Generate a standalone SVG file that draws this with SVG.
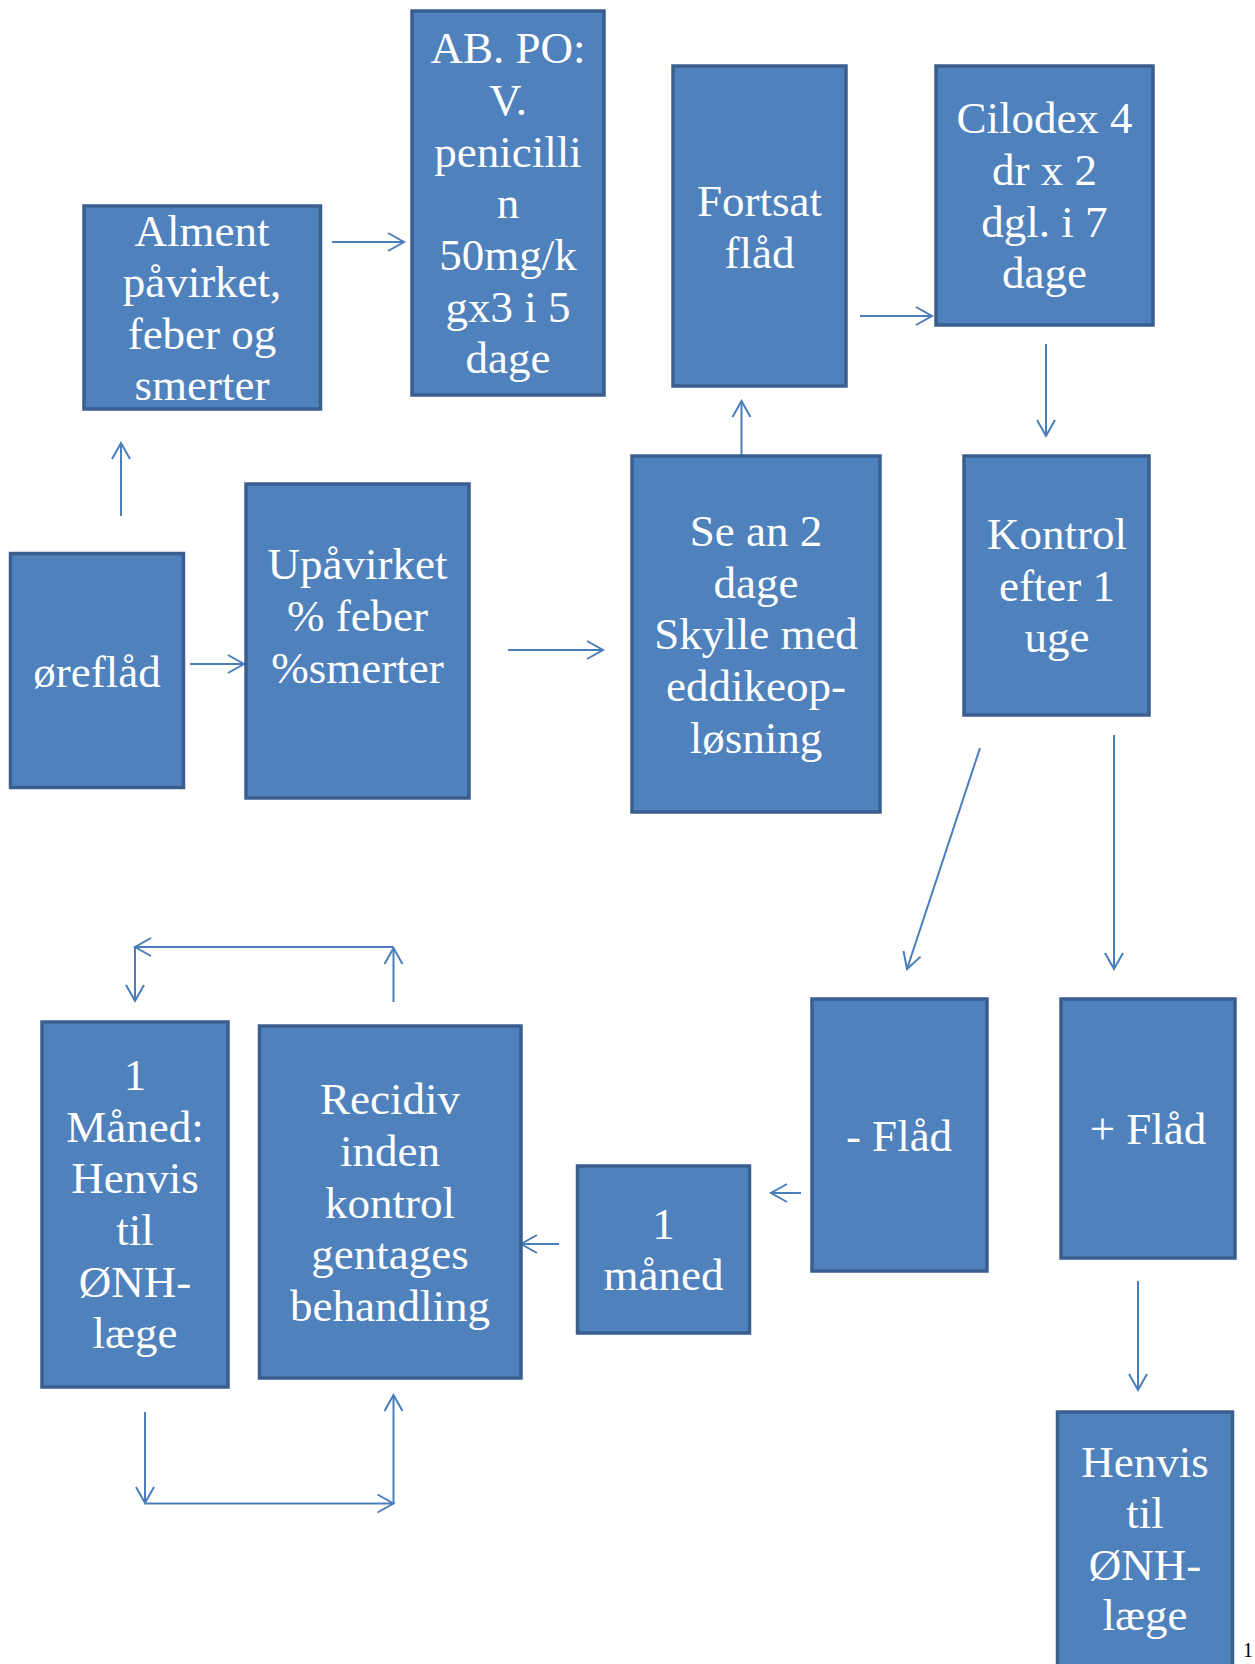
<svg xmlns="http://www.w3.org/2000/svg" width="1255" height="1664" viewBox="0 0 1255 1664">
<style>
.box{fill:#4f81bd;stroke:#3a5f8f;stroke-width:3.5}
.t{font-family:"Liberation Serif",serif;font-size:45px;fill:#ffffff;text-anchor:middle}
.c{stroke:#4a7ebb;stroke-width:2;fill:none;marker-end:url(#arr)}
.pg{font-family:"Liberation Serif",serif;font-size:20px;fill:#000000}
</style>
<defs>
<marker id="arr" markerUnits="userSpaceOnUse" markerWidth="22" markerHeight="22" refX="19" refY="11" orient="auto" viewBox="0 0 22 22">
<path d="M3,2 L19,11 L3,20" fill="none" stroke="#4a7ebb" stroke-width="2"/>
</marker>
</defs>
<rect width="1255" height="1664" fill="#ffffff"/>
<g id="connectors">
<line class="c" x1="121" y1="516" x2="121" y2="443"/>
<line class="c" x1="332" y1="242" x2="404" y2="242"/>
<line class="c" x1="190" y1="664" x2="244" y2="664"/>
<line class="c" x1="508" y1="650" x2="603" y2="650"/>
<line class="c" x1="741.5" y1="455" x2="741.5" y2="401"/>
<line class="c" x1="860" y1="316" x2="932" y2="316"/>
<line class="c" x1="1046" y1="344" x2="1046" y2="436"/>
<line class="c" x1="980" y1="748" x2="907" y2="969"/>
<line class="c" x1="1114" y1="735" x2="1114" y2="969"/>
<line class="c" x1="801" y1="1193" x2="771" y2="1193"/>
<line class="c" x1="559" y1="1244" x2="521" y2="1244"/>
<line class="c" x1="1138" y1="1281" x2="1138" y2="1390"/>
<line class="c" x1="393.5" y1="1002" x2="393.5" y2="948"/>
<line class="c" x1="393.5" y1="947" x2="135" y2="947"/>
<line class="c" x1="135" y1="947" x2="135" y2="1001"/>
<line class="c" x1="145" y1="1412" x2="145" y2="1503"/>
<line class="c" x1="145" y1="1503.5" x2="393.5" y2="1503.5"/>
<line class="c" x1="393.5" y1="1503.5" x2="393.5" y2="1395"/>
</g>
<g id="oreflad"><rect class="box" x="10.5" y="553.5" width="173" height="234"/>
<text class="t" x="97" y="687">øreflåd</text></g>
<g id="alment"><rect class="box" x="84" y="206" width="236.5" height="203"/>
<text class="t" x="202"><tspan x="202" y="246">Alment</tspan><tspan x="202" y="297">påvirket,</tspan><tspan x="202" y="349">feber og</tspan><tspan x="202" y="400">smerter</tspan></text></g>
<g id="ab"><rect class="box" x="412" y="11" width="192" height="384"/>
<text class="t" x="508"><tspan x="508" y="63">AB. PO:</tspan><tspan x="508" y="115">V.</tspan><tspan x="508" y="167">penicilli</tspan><tspan x="508" y="218">n</tspan><tspan x="508" y="270">50mg/k</tspan><tspan x="508" y="322">gx3 i 5</tspan><tspan x="508" y="373">dage</tspan></text></g>
<g id="upavirket"><rect class="box" x="246" y="484" width="223" height="314"/>
<text class="t" x="357.5"><tspan x="357.5" y="579">Upåvirket</tspan><tspan x="357.5" y="631">% feber</tspan><tspan x="357.5" y="683">%smerter</tspan></text></g>
<g id="fortsat"><rect class="box" x="673" y="66" width="173" height="320"/>
<text class="t" x="759.5"><tspan x="759.5" y="216">Fortsat</tspan><tspan x="759.5" y="268">flåd</tspan></text></g>
<g id="cilodex"><rect class="box" x="936" y="66" width="217" height="259"/>
<text class="t" x="1044.5"><tspan x="1044.5" y="133">Cilodex 4</tspan><tspan x="1044.5" y="185">dr x 2</tspan><tspan x="1044.5" y="237">dgl. i 7</tspan><tspan x="1044.5" y="288">dage</tspan></text></g>
<g id="sean"><rect class="box" x="632" y="456" width="248" height="356"/>
<text class="t" x="756"><tspan x="756" y="546">Se an 2</tspan><tspan x="756" y="598">dage</tspan><tspan x="756" y="649">Skylle med</tspan><tspan x="756" y="701">eddikeop-</tspan><tspan x="756" y="753">løsning</tspan></text></g>
<g id="kontrol"><rect class="box" x="964" y="456" width="185" height="259"/>
<text class="t" x="1057"><tspan x="1057" y="549">Kontrol</tspan><tspan x="1057" y="601">efter 1</tspan><tspan x="1057" y="652">uge</tspan></text></g>
<g id="minusflad"><rect class="box" x="812" y="999" width="175" height="272"/>
<text class="t" x="899" y="1151">- Flåd</text></g>
<g id="plusflad"><rect class="box" x="1061" y="999" width="174" height="259"/>
<text class="t" x="1148" y="1144">+ Flåd</text></g>
<g id="maaned"><rect class="box" x="577.5" y="1166" width="172" height="167"/>
<text class="t" x="663.5"><tspan x="663.5" y="1239">1</tspan><tspan x="663.5" y="1290">måned</tspan></text></g>
<g id="recidiv"><rect class="box" x="259.5" y="1026" width="261.5" height="352"/>
<text class="t" x="390"><tspan x="390" y="1114">Recidiv</tspan><tspan x="390" y="1166">inden</tspan><tspan x="390" y="1218">kontrol</tspan><tspan x="390" y="1269">gentages</tspan><tspan x="390" y="1321">behandling</tspan></text></g>
<g id="henvis1"><rect class="box" x="42" y="1022" width="186" height="365"/>
<text class="t" x="135"><tspan x="135" y="1090">1</tspan><tspan x="135" y="1142">Måned:</tspan><tspan x="135" y="1193">Henvis</tspan><tspan x="135" y="1245">til</tspan><tspan x="135" y="1297">ØNH-</tspan><tspan x="135" y="1348">læge</tspan></text></g>
<g id="henvis2"><rect class="box" x="1057.5" y="1412" width="175" height="280"/>
<text class="t" x="1145"><tspan x="1145" y="1477">Henvis</tspan><tspan x="1145" y="1528">til</tspan><tspan x="1145" y="1580">ØNH-</tspan><tspan x="1145" y="1630">læge</tspan></text></g>
<text class="pg" x="1243" y="1657">1</text>
</svg>
